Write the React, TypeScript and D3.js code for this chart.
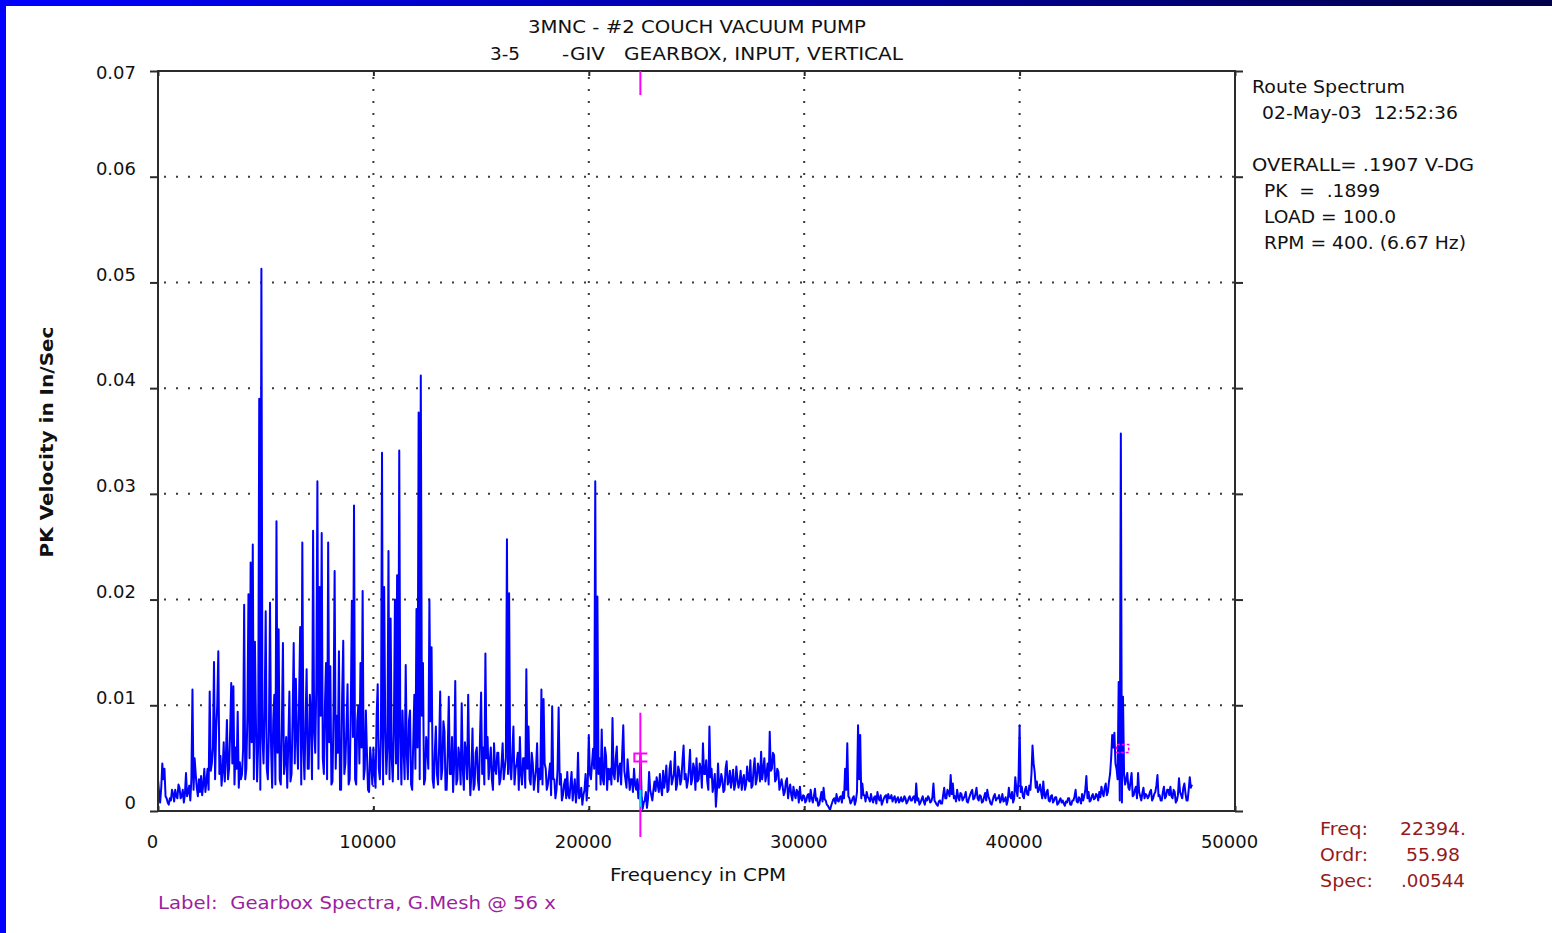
import { useEffect, useRef } from 'react';
import * as d3 from 'd3';

// one spectrum line every 50 CPM, amplitude in 1/10000 in/sec
const FREQ_STEP = 50;
const AMP_UNIT = 0.0001;

const band0to10k = [
  30, 18, 8, 22, 45, 30, 40, 14, 12, 8, 6, 12, 10, 20, 16, 9, 20, 14, 12, 25,
  22, 12, 14, 20, 8, 16, 36, 14, 18, 24, 10, 30, 115, 20, 50, 35, 22, 14, 30, 18,
  33, 15, 25, 40, 18, 28, 40, 20, 113, 38, 45, 60, 141, 30, 77, 100, 151, 35, 52, 24,
  38, 65, 28, 50, 86, 30, 40, 75, 121, 45, 118, 25, 60, 40, 94, 22, 46, 30, 35, 58,
  195, 30, 40, 90, 205, 50, 235, 65, 252, 30, 160, 80, 28, 62, 390, 20, 513, 70, 45, 95,
  189, 40, 30, 75, 197, 60, 22, 85, 110, 25, 274, 55, 172, 30, 25, 80, 159, 35, 48, 70,
  22, 65, 113, 28, 35, 90, 159, 45, 125, 70, 40, 105, 174, 25, 254, 60, 30, 85, 134, 40,
  40, 110, 90, 30, 265, 75, 55, 120, 312, 40, 212, 90, 263, 50, 35, 100, 140, 30, 254, 65,
  137, 25, 28, 95, 227, 40, 90, 55, 151, 20, 20, 110, 161, 35, 45, 80, 120, 25, 30, 95,
  199, 70, 289, 30, 25, 85, 100, 45, 140, 60, 208, 30, 40, 95, 55, 20, 18, 60, 45, 25,
];

const band10to20k = [
  60, 35, 22, 90, 120, 40, 30, 70, 339, 25, 212, 80, 35, 60, 246, 30, 182, 50, 28, 75,
  200, 45, 223, 30, 341, 70, 25, 95, 60, 30, 138, 55, 30, 85, 95, 25, 20, 65, 110, 40,
  191, 60, 377, 30, 412, 90, 140, 25, 30, 70, 60, 40, 200, 85, 155, 30, 22, 55, 80, 35,
  25, 60, 113, 30, 40, 85, 75, 20, 20, 55, 108, 35, 35, 70, 18, 45, 123, 25, 30, 60,
  50, 25, 102, 40, 20, 65, 55, 30, 110, 45, 15, 35, 78, 20, 25, 55, 60, 30, 20, 70,
  112, 35, 60, 25, 149, 50, 70, 30, 45, 60, 30, 20, 64, 40, 35, 55, 55, 25, 30, 45,
  64, 30, 40, 50, 257, 35, 206, 40, 30, 55, 80, 25, 40, 45, 55, 20, 70, 35, 25, 50,
  50, 22, 134, 40, 80, 30, 25, 55, 45, 20, 30, 40, 64, 18, 40, 30, 115, 25, 106, 45,
  40, 20, 25, 35, 45, 15, 99, 30, 30, 12, 20, 40, 98, 25, 35, 10, 15, 25, 30, 12,
  37, 15, 12, 25, 37, 10, 20, 30, 8, 18, 55, 12, 15, 22, 6, 15, 20, 35, 10, 25,
];

const band20to30k = [
  72, 35, 30, 45, 59, 40, 312, 20, 203, 35, 50, 25, 77, 30, 25, 60, 52, 20, 40, 30,
  40, 25, 88, 35, 30, 50, 61, 28, 40, 45, 25, 55, 81, 38, 30, 22, 49, 35, 20, 30,
  30, 18, 40, 25, 20, 30, 12, 20, 54, 15, 2, 8, 10, 18, 3, 12, 37, 20, 15, 10,
  20, 28, 19, 32, 25, 18, 35, 22, 15, 38, 22, 30, 43, 18, 20, 40, 47, 25, 30, 35,
  56, 20, 25, 42, 38, 25, 30, 48, 62, 30, 35, 22, 28, 40, 58, 25, 30, 45, 40, 20,
  50, 28, 30, 45, 40, 22, 64, 35, 35, 48, 28, 20, 80, 32, 40, 18, 25, 35, 4, 20,
  45, 22, 25, 35, 30, 18, 20, 40, 47, 25, 28, 38, 22, 30, 39, 20, 25, 42, 30, 22,
  28, 38, 20, 30, 34, 20, 25, 42, 30, 28, 48, 22, 24, 40, 50, 25, 30, 45, 40, 28,
  56, 30, 39, 50, 28, 35, 45, 25, 75, 38, 40, 55, 53, 28, 30, 40, 37, 20, 25, 30,
  23, 15, 18, 28, 31, 12, 20, 25, 15, 10, 23, 16, 12, 20, 18, 8, 23, 12, 10, 15,
];

const band30to40k = [
  14, 8, 10, 15, 16, 9, 20, 12, 8, 14, 21, 10, 12, 5, 6, 12, 18, 9, 22, 11,
  10, 6, 5, 3, 1, 5, 8, 11, 12, 7, 16, 10, 9, 13, 14, 8, 18, 12, 40, 20,
  64, 14, 12, 7, 9, 12, 14, 6, 10, 18, 81, 30, 72, 12, 26, 15, 15, 9, 18, 13,
  12, 9, 16, 11, 8, 13, 14, 7, 18, 12, 10, 15, 6, 9, 12, 14, 15, 8, 16, 12,
  12, 15, 9, 12, 14, 8, 11, 13, 8, 10, 13, 9, 10, 14, 12, 7, 9, 12, 14, 10,
  10, 13, 14, 8, 26, 10, 12, 6, 8, 11, 14, 9, 6, 12, 10, 14, 12, 8, 9, 13,
  26, 10, 8, 6, 5, 9, 10, 7, 7, 15, 22, 12, 12, 20, 18, 14, 34, 16, 26, 12,
  14, 9, 20, 13, 10, 17, 16, 10, 12, 14, 18, 9, 8, 12, 15, 18, 20, 11, 12, 16,
  22, 12, 10, 15, 14, 8, 9, 13, 17, 10, 20, 14, 11, 7, 6, 10, 14, 16, 10, 12,
  12, 15, 8, 11, 16, 9, 10, 13, 6, 10, 22, 14, 12, 18, 8, 12, 32, 20, 14, 30,
];

const band40to48k = [
  81, 18, 23, 14, 12, 20, 23, 16, 15, 24, 20, 35, 62, 45, 37, 22, 28, 18, 20, 25,
  18, 12, 28, 15, 12, 18, 20, 10, 9, 14, 15, 8, 10, 13, 13, 6, 7, 10, 12, 8,
  10, 7, 5, 9, 8, 12, 12, 6, 6, 10, 10, 14, 20, 9, 8, 13, 11, 7, 16, 10,
  14, 20, 33, 12, 18, 9, 10, 14, 16, 11, 12, 16, 15, 10, 18, 13, 23, 17, 14, 22,
  26, 15, 18, 28, 35, 50, 72, 60, 74, 45, 40, 30, 122, 10, 357, 8, 108, 35, 25, 30,
  36, 22, 20, 28, 36, 14, 15, 20, 23, 12, 36, 18, 14, 10, 17, 22, 12, 16, 15, 12,
  14, 18, 20, 10, 12, 16, 18, 24, 34, 14, 15, 10, 10, 18, 23, 12, 14, 20, 20, 15,
  23, 14, 12, 20, 18, 8, 10, 15, 31, 18, 15, 12, 22, 26, 17, 10, 10, 20, 32, 22,
  25,
];

const xTicks = [0, 10000, 20000, 30000, 40000, 50000];
const yTicks = [0, 0.01, 0.02, 0.03, 0.04, 0.05, 0.06, 0.07];

const cursorFreq = 22394;
const cursorOrder = 55.98;
const cursorSpec = 0.00544;
const harmonicLevel = 0.0063;

const titleLine1 = '3MNC - #2 COUCH VACUUM PUMP';
const titleLine2 = ['3-5', '-GIV', 'GEARBOX, INPUT, VERTICAL'];
const infoLines = [
  'Route Spectrum',
  '02-May-03  12:52:36',
  'OVERALL= .1907 V-DG',
  'PK  =  .1899',
  'LOAD = 100.0',
  'RPM = 400. (6.67 Hz)',
];
const labelText = 'Label:  Gearbox Spectra, G.Mesh @ 56 x';

const W = 1552;
const H = 933;
const FONT = '"DejaVu Sans", Verdana, sans-serif';

export default function App() {
  const svgRef = useRef<SVGSVGElement>(null);

  useEffect(() => {
    if (!svgRef.current) return;
    const svg = d3.select(svgRef.current);
    svg.selectAll('*').remove();

    const left = 158;
    const right = 1235;
    const top = 71;
    const bottom = 811;

    const x = d3.scaleLinear().domain([0, 50000]).range([left, right]);
    const y = d3.scaleLinear().domain([0, 0.07]).range([bottom, top]);

    const amps = [...band0to10k, ...band10to20k, ...band20to30k, ...band30to40k, ...band40to48k];
    const data = amps.map((v, i) => ({ freq: i * FREQ_STEP, amp: v * AMP_UNIT }));

    svg.append('rect').attr('width', W).attr('height', H).attr('fill', '#ffffff');

    // window frame
    const grad = svg
      .append('defs')
      .append('linearGradient')
      .attr('id', 'topbar')
      .attr('x1', '0%')
      .attr('x2', '100%');
    grad.append('stop').attr('offset', '0%').attr('stop-color', '#0000ff');
    grad.append('stop').attr('offset', '100%').attr('stop-color', '#00004a');
    svg.append('rect').attr('width', W).attr('height', 6).attr('fill', 'url(#topbar)');
    svg.append('rect').attr('width', 6).attr('height', H).attr('fill', '#0000ff');

    const txt = (
      tx: number,
      ty: number,
      s: string,
      len?: number,
      color = '#111',
      size = 18,
      weight = 'normal'
    ) => {
      const t = svg
        .append('text')
        .attr('x', tx)
        .attr('y', ty)
        .attr('font-family', FONT)
        .attr('font-size', size)
        .attr('font-weight', weight)
        .attr('fill', color)
        .style('white-space', 'pre')
        .text(s);
      if (len) t.attr('textLength', len).attr('lengthAdjust', 'spacingAndGlyphs');
      return t;
    };

    // titles
    txt(528, 33, titleLine1, 338);
    txt(490, 60, titleLine2[0], 30);
    txt(562, 60, titleLine2[1], 43);
    txt(624, 60, titleLine2[2], 279);

    // grid
    const grid = svg.append('g').attr('stroke', '#3a3a3a').attr('stroke-width', 2).attr('stroke-dasharray', '2 10');
    grid
      .selectAll('line.h')
      .data(yTicks.slice(1, -1))
      .join('line')
      .attr('x1', left + 6)
      .attr('x2', right)
      .attr('y1', (d) => y(d))
      .attr('y2', (d) => y(d));
    grid
      .selectAll('line.v')
      .data(xTicks.slice(1, -1))
      .join('line')
      .attr('x1', (d) => x(d))
      .attr('x2', (d) => x(d))
      .attr('y1', top + 6)
      .attr('y2', bottom);

    // spectrum
    const line = d3
      .line<{ freq: number; amp: number }>()
      .x((d) => x(d.freq))
      .y((d) => y(d.amp));
    svg
      .append('path')
      .datum(data)
      .attr('fill', 'none')
      .attr('stroke', '#0000ff')
      .attr('stroke-width', 2)
      .attr('stroke-linejoin', 'round')
      .attr('d', line);

    // axes
    const styleAxis = (g: d3.Selection<SVGGElement, unknown, null, undefined>) => {
      g.select('.domain').remove();
      g.selectAll('.tick line').attr('stroke', '#2b2b2b').attr('stroke-width', 2);
      g.selectAll('.tick text').attr('font-family', FONT).attr('font-size', 18).attr('fill', '#111');
    };

    const maxY = d3.max(yTicks) as number;
    svg
      .append('g')
      .attr('transform', `translate(${left},0)`)
      .call(
        d3
          .axisLeft(y)
          .tickValues(yTicks)
          .tickSize(8)
          .tickPadding(14)
          .tickFormat((d) => (+d === 0 ? '0' : d3.format('.2f')(+d)))
      )
      .call(styleAxis)
      .selectAll<SVGTextElement, number>('.tick text')
      .attr('y', (d) => (d === maxY ? 2 : -8));

    svg
      .append('g')
      .attr('transform', `translate(${right},0)`)
      .call(d3.axisRight(y).tickValues(yTicks).tickSize(8).tickFormat(() => ''))
      .call(styleAxis);

    svg
      .append('g')
      .attr('transform', `translate(0,${bottom})`)
      .call(
        d3
          .axisBottom(x)
          .tickValues(xTicks)
          .tickSizeInner(-5)
          .tickSizeOuter(0)
          .tickPadding(24)
          .tickFormat(d3.format('d'))
      )
      .call(styleAxis)
      .selectAll('.tick text')
      .attr('x', -6);

    svg
      .append('g')
      .attr('transform', `translate(0,${top})`)
      .call(d3.axisTop(x).tickValues(xTicks).tickSizeInner(-5).tickSizeOuter(0).tickFormat(() => ''))
      .call(styleAxis);

    svg
      .append('rect')
      .attr('x', left)
      .attr('y', top)
      .attr('width', right - left)
      .attr('height', bottom - top)
      .attr('fill', 'none')
      .attr('stroke', '#2b2b2b')
      .attr('stroke-width', 2);

    // cursor
    const cx = x(cursorFreq);
    const cy = y(cursorSpec);
    const cursor = svg.append('g').attr('stroke', '#ff00ff').attr('stroke-width', 2).attr('fill', 'none');
    cursor.append('line').attr('x1', cx).attr('x2', cx).attr('y1', top).attr('y2', top + 24);
    cursor.append('line').attr('x1', cx).attr('x2', cx).attr('y1', y(0.0093)).attr('y2', bottom + 26);
    cursor
      .append('path')
      .attr('d', `M${cx + 7},${cy} H${cx - 6} V${cy + 8} H${cx + 7}`);
    svg
      .append('line')
      .attr('x1', cx)
      .attr('x2', cx)
      .attr('y1', y(0.002))
      .attr('y2', y(0.0004))
      .attr('stroke', '#00e0ff')
      .attr('stroke-width', 2);

    // harmonic marker at 2x
    const hx = x(cursorFreq * 2);
    const hy = y(harmonicLevel);
    svg
      .append('rect')
      .attr('x', hx - 6)
      .attr('y', hy)
      .attr('width', 12)
      .attr('height', 8)
      .attr('fill', 'none')
      .attr('stroke', '#ff00ff')
      .attr('stroke-width', 1.5)
      .attr('stroke-dasharray', '3 2');

    // axis titles
    txt(610, 881, 'Frequency in CPM', 176);
    svg
      .append('text')
      .attr('transform', 'translate(53,442) rotate(-90)')
      .attr('text-anchor', 'middle')
      .attr('font-family', FONT)
      .attr('font-size', 18)
      .attr('font-weight', 'bold')
      .attr('fill', '#111')
      .attr('textLength', 231)
      .attr('lengthAdjust', 'spacingAndGlyphs')
      .text('PK Velocity in In/Sec');

    // info panel
    const infoPos = [
      [1252, 93, 153],
      [1262, 119, 196],
      [1252, 171, 222],
      [1264, 197, 116],
      [1264, 223, 132],
      [1264, 249, 202],
    ];
    infoLines.forEach((s, i) => txt(infoPos[i][0], infoPos[i][1], s, infoPos[i][2]));

    // cursor readout
    const red = '#951b1b';
    txt(1320, 835, 'Freq:', 48, red);
    txt(1400, 835, `${cursorFreq}.`, 66, red);
    txt(1320, 861, 'Ordr:', 48, red);
    txt(1406, 861, cursorOrder.toFixed(2), 54, red);
    txt(1320, 887, 'Spec:', 53, red);
    txt(1401, 887, d3.format('.5f')(cursorSpec).replace(/^0/, ''), 64, red);

    txt(158, 909, labelText, 398, '#9c1fa0');
  }, []);

  return (
    <div style={{ position: 'absolute', left: 0, top: 0 }}>
      <svg ref={svgRef} width={W} height={H} style={{ display: 'block' }} />
    </div>
  );
}
